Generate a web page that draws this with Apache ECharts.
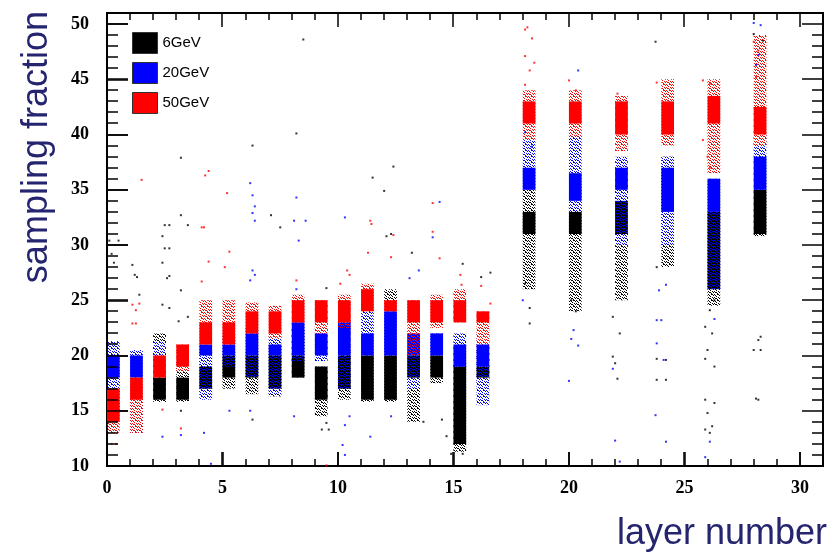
<!DOCTYPE html>
<html>
<head>
<meta charset="utf-8">
<script src="https://cdn.jsdelivr.net/npm/echarts@6/dist/echarts.min.js"></script>
<style>
  html, body { margin: 0; padding: 0; background: #fff; }
  #chart { width: 829px; height: 554px; }
</style>
</head>
<body>
<div id="chart"></div>
<script>
// layer numbers (x)
var layers = [0, 1, 2, 3, 4, 5, 6, 7, 8, 9, 10, 11, 12, 13, 14, 15, 16, 18, 20, 22, 24, 26, 28];

// 6GeV : dense band (lo..hi) and looser spread (sLo..sHi)
var lo6  = [null, null, 16, 16, 17, 18, 18, 17, 18, 16, 17, 16, 16, 18, 18, 12, 18, 31, 31, 31, null, 26, 31];
var hi6  = [null, null, 18, 18, 19, 20, 20, 20, 20, 19, 20, 20, 20, 20, 20, 19, 19, 33, 33, 34, null, 33, 35];
var sLo6 = [15, 17, 15.8, 15.8, 16.5, 17, 16.5, 16.3, 18, 14.5, 16, 15.8, 15.8, 14, 17.5, 11.3, 17.5, 26, 24, 25, 28, 24.5, 30.8];
var sHi6 = [18, 18.5, 22, 19.5, 20.5, 20.5, 20.5, 21, 22.5, 19, 20.5, 20, 26, 20, 20, 19.5, 21, 35, 34, 35, 38, 33, 35];

// 20GeV
var lo20  = [18, 18, null, null, 20, 20, 20, 20, 20, 20, 20, 20, 20, 20, 20, 19, 19, 35, 34, 35, 33, 33, 35];
var hi20  = [20, 20, null, null, 21, 21, 22, 21, 23, 22, 23, 22, 24, 22, 22, 21, 21, 37, 36.5, 37, 37, 36, 38];
var sLo20 = [17, 13, 20, null, 16, 19, 18, 16.5, 19.5, 19.5, 17, 20, 20, 17, 20, 19, 15.5, 35, 33, 30, 30, 26, 35];
var sHi20 = [21.3, 20.5, 21.3, null, 21, 22, 22.5, 22, 23, 23, 23.5, 24.5, 24.5, 22, 22, 22, 22, 39.5, 40, 38, 38, 36, 40];

// 50GeV
var lo50  = [14, 16, 18, 19, 21, 21, 22, 22, 23, 23, 23, 24, 24, 23, 23, 23, 23, 41, 41, 40, 40, 41, 40];
var hi50  = [17, 18, 20, 21, 23, 23, 24, 24, 25, 25, 25, 26, 25, 25, 25, 25, 24, 43, 43, 43, 43, 43.5, 42.5];
var sLo50 = [13, 13, 18, 18.5, 21, 21, 22, 21.5, 23, 22, 22.5, 24, 24, 20, 22.5, 23, 21, 39.5, 39.8, 38.5, 39, 36.5, 39];
var sHi50 = [17, 18, 20, 21, 25, 25, 24.8, 24.5, 25.5, 25, 25.5, 26.5, 25, 25, 25.5, 26, 24, 44, 44, 43.5, 45, 45, 49];

// isolated points
var dots6 = [[8.5,48.6],[8.2,40.1],[6.3,39.0],[3.2,37.9],[3.2,32.7],[3.5,31.8],[12.4,37.1],[12.0,34.9],[11.5,36.1],
  [7.1,32.7],[7.5,31.6],[2.5,31.8],[2.7,31.8],[2.4,30.8],[2.5,29.7],[2.7,29.7],[2.4,28.4],[2.6,27],[2.7,27.2],
  [1.1,28.2],[1.2,27.3],[1.3,27.1],[1.4,25.5],[0.1,30.4],[0.5,30.4],[0.2,29.2],[0.3,28.4],[3.2,25.9],[3.1,23.1],
  [3.5,23.5],[2.4,24.6],[2.7,24.3],[13.2,29.3],[12.1,30.8],[12.3,31.0],[15.4,28.3],[16.2,27.1],[16.6,27.5],[9.5,26.1],
  [15.1,12.4],[15.4,11.1],[14.7,12.7],[14.9,11.1],[14.5,14.2],[13.7,14.0],[9.3,13.3],[9.6,13.3],[9.5,13.9],[6.3,14.2],
  [3.2,15.0],[23.75,48.4],[18.3,22.9],[18.3,24.3],[18.1,26.5],[20.3,24.0],[20.1,25.0],[22.1,17.9],[21.9,19.9],
  [22.0,19.3],[21.9,23.5],[22.2,22.0],[23.8,17.8],[24.2,17.8],[23.8,19.7],[24.2,19.6],[23.8,28.0],[25.9,16.0],
  [26.3,15.7],[26.0,14.8],[26.2,13.6],[25.9,13.3],[26.1,13.0],[25.9,22.6],[26.2,22.0],[26.0,20.5],[25.9,19.7],
  [26.3,19.0],[28.1,16.1],[28.2,16.0],[28.0,20.5],[28.3,20.5],[28.2,21.4],[28.3,21.7],[26.3,25.0],[26.1,24.1],
  [28.0,49.1],[28.4,48.5]];
var dots20 = [[8.2,34.3],[6.2,35.6],[6.3,34.5],[6.4,33.5],[6.3,32.9],[6.4,32.2],[8.1,32.2],[8.6,32.2],[8.3,30.4],
  [10.3,32.5],[14.4,33.9],[14.1,30.7],[13.5,27.7],[13.1,27.0],[6.2,26.8],[6.3,27.7],[6.4,27.3],[8.2,26.0],[2.4,12.65],
  [3.2,12.8],[4.2,13.0],[4.5,10.2],[5.3,15.0],[6.2,15.0],[8.1,14.5],[11.4,12.65],[12.3,14.5],[10.2,11.9],[10.3,11.0],
  [10.3,13.7],[10.5,14.5],[20.4,45.8],[18.1,40.2],[18.4,38.9],[23.75,14.6],[24.2,12.2],[23.8,23.2],[24.0,23.2],
  [23.9,25.9],[24.2,26.4],[23.8,21.1],[24.1,19.6],[22.0,12.3],[22.2,10.4],[21.9,18.8],[20.0,17.7],[20.2,22.3],
  [20.4,20.9],[20.1,21.5],[18.0,25.0],[26.1,12.2],[25.9,10.8],[26.3,23.3],[28.0,50.1],[28.3,49.9],[28.2,47.2],[28.1,46.3]];
var dots50 = [[1.5,35.9],[4.25,36.3],[4.4,36.7],[5.2,34.7],[4.1,31.6],[4.2,31.6],[4.4,28.5],[5.3,29.4],[5.1,28.0],
  [4.1,26.7],[11.4,32.2],[11.45,31.9],[11.3,29.3],[12.4,30.9],[12.3,28.9],[14.1,33.8],[14.1,31.2],[14.4,28.8],
  [10.4,27.7],[10.5,27.3],[10.1,26.5],[8.2,26.8],[1.1,24.6],[1.25,24.1],[1.4,24.7],[1.1,22.9],[1.25,22.9],[15.3,27.3],
  [15.35,26.4],[16.2,26.3],[16.6,24.7],[0.2,12.0],[0.4,12.0],[3.2,13.4],[2.4,15.1],[9.5,10.05],[18.2,49.7],[18.1,49.5],
  [18.4,48.7],[18.1,47.1],[18.5,46.5],[18.3,45.8],[18.1,44.5],[20.0,44.9],[20.3,44.0],[22.1,43.7],[23.8,44.7],
  [25.8,44.9],[26.1,44.6],[26.0,38.0],[26.1,37.0],[25.8,39.5],[28.0,48.4],[28.2,47.6],[28.1,45.2]];

var xMin = 0, xMax = 31, yMin = 10, yMax = 51;
var xMajor = [0, 5, 10, 15, 20, 25, 30];
var yMajor = [10, 15, 20, 25, 30, 35, 40, 45, 50];
var boxWidth = 0.55;
var tickFont = 'Liberation Serif';
var titleColor = '#25256f';

// ROOT style ticks: every unit, long ones every 5
var xTicks = [], yTicks = [];
for (var xv = xMin; xv <= xMax; xv++) xTicks.push([xv, xMajor.indexOf(xv) >= 0 ? 1 : 0]);
for (var yv = yMin; yv <= yMax; yv++) yTicks.push([yv, yMajor.indexOf(yv) >= 0 ? 1 : 0]);

// little dot texture used for the loose parts of each band
var speckleCells = [[0,0],[3,0],[1,1],[5,1],[2,2],[4,3],[0,3],[1,4],[3,5],[5,4],[4,0],[2,4]];
function speckle(color) {
  var c = document.createElement('canvas');
  c.width = 6; c.height = 6;
  var g = c.getContext('2d');
  g.fillStyle = color;
  speckleCells.forEach(function (p) { g.fillRect(p[0], p[1], 1, 1); });
  return { image: c, repeat: 'repeat' };
}

function bandData(lo, hi, sLo, sHi) {
  return layers.map(function (l, i) {
    return [l, sLo[i], lo[i], hi[i], sHi[i]];
  });
}

function renderBand(color) {
  var pattern = speckle(color);
  return function (params, api) {
    var x = api.value(0);
    var children = [];
    var sLo = api.value(1), lo = api.value(2), hi = api.value(3), sHi = api.value(4);
    if (!isNaN(sLo) && !isNaN(sHi)) {
      var a = api.coord([x, sHi]);
      var b = api.coord([x + boxWidth, sLo]);
      children.push({
        type: 'rect',
        shape: { x: a[0], y: a[1], width: b[0] - a[0], height: b[1] - a[1] },
        style: { fill: pattern }
      });
    }
    if (!isNaN(lo) && !isNaN(hi)) {
      var c = api.coord([x, hi]);
      var d = api.coord([x + boxWidth, lo]);
      children.push({
        type: 'rect',
        shape: { x: c[0], y: c[1], width: d[0] - c[0], height: d[1] - c[1] },
        style: { fill: color }
      });
    }
    return { type: 'group', children: children };
  };
}

// one custom series per frame side, each tick a thin rect pointing inwards
function tickRenderer(side) {
  return function (params, api) {
    var v = api.value(0), major = api.value(1) === 1;
    var p;
    if (side === 'bottom' || side === 'top') {
      var len = major ? 14 : 7;
      p = api.coord([v, side === 'bottom' ? yMin : yMax]);
      var X = Math.round(p[0]) - 0.75;
      var y0 = side === 'bottom' ? p[1] - len : p[1];
      return { type: 'rect', shape: { x: X, y: y0, width: 1.5, height: len }, style: { fill: '#000' } };
    }
    var ylen = major ? 21 : 11;
    p = api.coord([side === 'left' ? xMin : xMax, v]);
    var Y = Math.round(p[1]) - 0.75;
    var x0 = side === 'left' ? p[0] : p[0] - ylen;
    return { type: 'rect', shape: { x: x0, y: Y, width: ylen, height: 1.5 }, style: { fill: '#000' } };
  };
}

function tickSeries(side, data) {
  return { type: 'custom', renderItem: tickRenderer(side), data: data, clip: false, z: 10 };
}

function bandSeries(name, color, data) {
  return {
    name: name,
    type: 'custom',
    renderItem: renderBand(color),
    data: data,
    itemStyle: { color: color },
    encode: { x: 0, y: [1, 2, 3, 4] },
    clip: true
  };
}

function dotSeries(name, color, data) {
  return {
    name: name,
    type: 'scatter',
    data: data,
    symbol: 'rect',
    symbolSize: 2,
    itemStyle: { color: color }
  };
}

var labelStyle = { color: '#000', fontFamily: tickFont, fontWeight: 'bold', fontSize: 18 };

var myChart = echarts.init(document.getElementById('chart'));
var option = {
  animation: false,
  grid: { left: 107, right: 6, top: 13, bottom: 88, show: true, borderColor: '#000', borderWidth: 2, backgroundColor: 'transparent' },
  legend: {
    data: ['6GeV', '20GeV', '50GeV'],
    orient: 'vertical',
    left: 127, top: 27,
    itemWidth: 25, itemHeight: 21, itemGap: 8,
    icon: 'rect',
    itemStyle: { borderColor: '#333', borderWidth: 1 },
    textStyle: { fontFamily: 'Liberation Sans', fontSize: 15, color: '#000' }
  },
  xAxis: {
    type: 'value', min: xMin, max: xMax, interval: 5,
    axisLine: { onZero: false, lineStyle: { color: '#000', width: 2 } },
    axisTick: { show: true, inside: true, length: 14, customValues: xMajor, lineStyle: { color: '#000', width: 1.5 } },
    axisLabel: Object.assign({ margin: 13, showMaxLabel: false }, labelStyle),
    splitLine: { show: false }
  },
  yAxis: {
    type: 'value', min: yMin, max: yMax, interval: 5,
    axisLine: { onZero: false, lineStyle: { color: '#000', width: 2 } },
    axisTick: { show: true, inside: true, length: 21, customValues: yMajor, lineStyle: { color: '#000', width: 1.5 } },
    axisLabel: Object.assign({ margin: 18, showMaxLabel: false }, labelStyle),
    splitLine: { show: false }
  },
  graphic: [
    { type: 'text', x: 37, y: 11, rotation: Math.PI / 2,
      style: { text: 'sampling fraction', font: '36px "Liberation Sans"', fill: titleColor, align: 'right', verticalAlign: 'middle' } },
    { type: 'text', x: 827, y: 534,
      style: { text: 'layer number', font: '36px "Liberation Sans"', fill: titleColor, align: 'right', verticalAlign: 'middle' } }
  ],
  series: [
    bandSeries('6GeV', '#000000', bandData(lo6, hi6, sLo6, sHi6)),
    bandSeries('20GeV', '#0000ff', bandData(lo20, hi20, sLo20, sHi20)),
    bandSeries('50GeV', '#ff0000', bandData(lo50, hi50, sLo50, sHi50)),
    dotSeries('6GeV', '#000000', dots6),
    dotSeries('20GeV', '#0000ff', dots20),
    dotSeries('50GeV', '#ff0000', dots50),
    tickSeries('bottom', xTicks),
    tickSeries('top', xTicks),
    tickSeries('left', yTicks),
    tickSeries('right', yTicks)
  ]
};
myChart.setOption(option);
</script>
</body>
</html>
